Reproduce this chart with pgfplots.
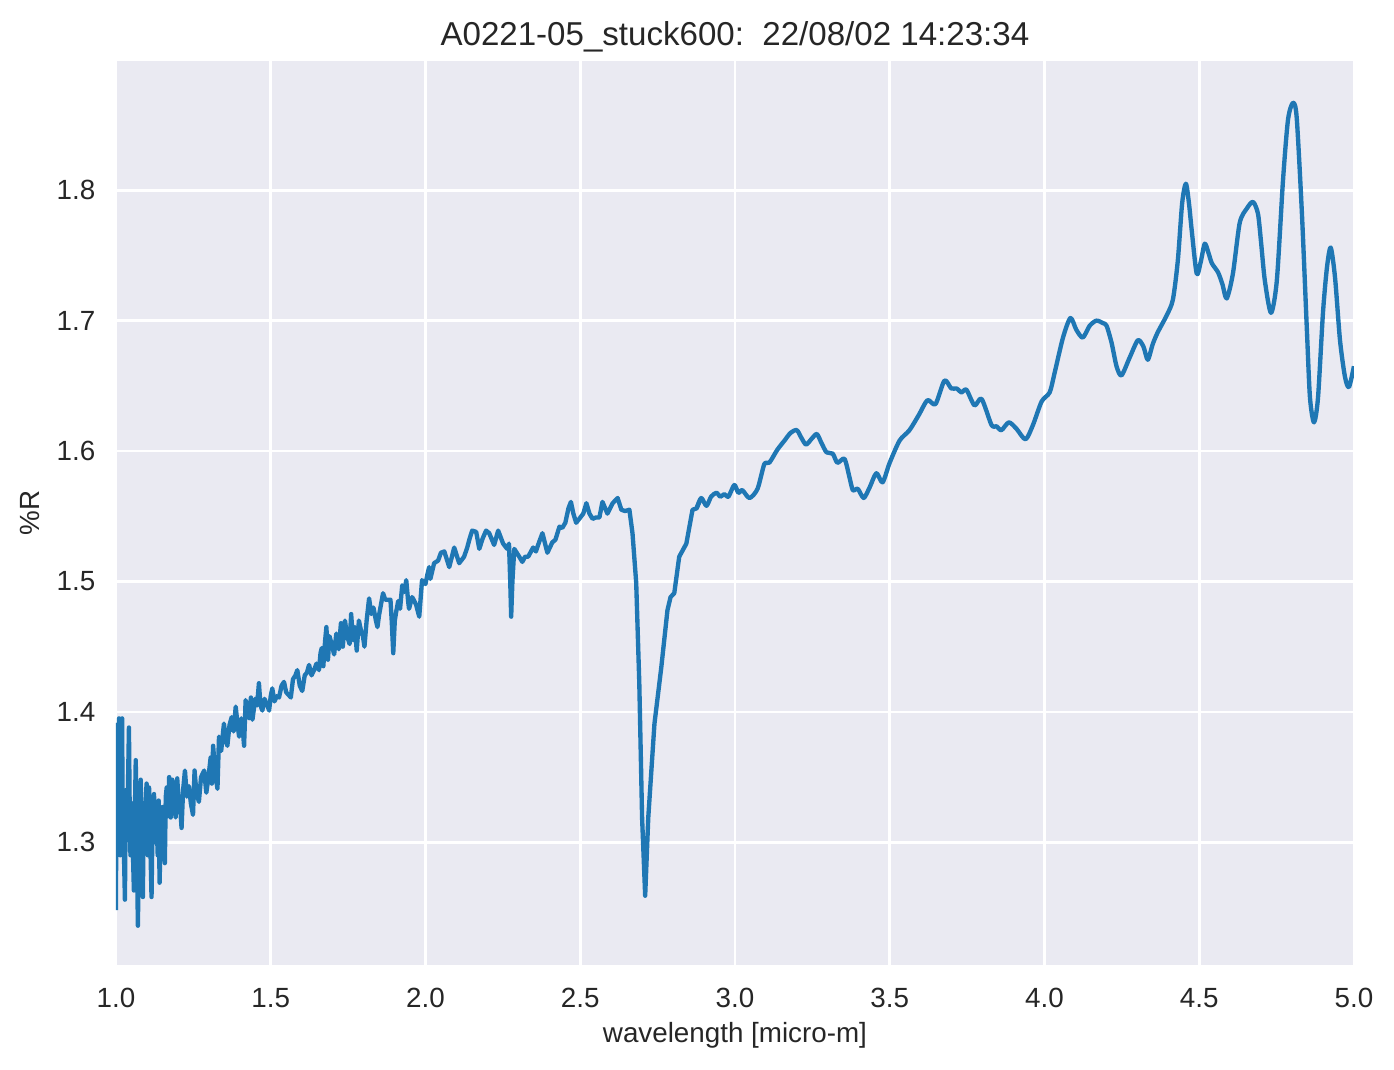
\documentclass[border=0pt]{standalone}
\usepackage{fontspec}
\setmainfont{Liberation Sans}
\usepackage{pgfplots}
\pgfplotsset{compat=1.18}
\definecolor{bgc}{HTML}{EAEAF2}
\definecolor{linec}{HTML}{1F77B4}
\definecolor{txt}{HTML}{262626}
\begin{document}
\begin{tikzpicture}
\begin{axis}[
  at={(0,0)}, anchor=south west,
  scale only axis, width=512.5pt, height=374.3pt,
  xmin=1, xmax=5, ymin=1.2057, ymax=1.899,
  axis background/.style={fill=bgc},
  axis line style={draw=none},
  major tick length=0pt,
  grid=major, grid style={white, line width=1.1pt},
  xtick={1,1.5,...,5}, ytick={1.3,1.4,1.5,1.6,1.7,1.8},
  /pgf/number format/assume math mode=true,
  xticklabel style={/pgf/number format/fixed, /pgf/number format/fixed zerofill, /pgf/number format/precision=1, font=\fontsize{11.5}{13}\selectfont, text=txt, yshift=-6pt},
  yticklabel style={/pgf/number format/fixed, /pgf/number format/fixed zerofill, /pgf/number format/precision=1, font=\fontsize{11.5}{13}\selectfont, text=txt, xshift=-5pt},
  xlabel={wavelength [micro-m]}, ylabel={\%R},
  xlabel style={font=\fontsize{11.5}{14}\selectfont, text=txt, yshift=1pt},
  ylabel style={font=\fontsize{11.5}{14}\selectfont, text=txt},
  title={A0221-05\_stuck600:\ \ 22/08/02 14:23:34},
  title style={font=\fontsize{13.7}{16}\selectfont, text=txt, yshift=-6pt},
  clip=true,
]
\addplot[linec, line width=1.8pt, line join=round] coordinates {
(1.000,1.248)(1.002,1.390)(1.004,1.300)(1.006,1.360)(1.008,1.310)(1.010,1.395)
(1.012,1.330)(1.014,1.290)(1.016,1.394)(1.018,1.320)(1.020,1.395)(1.022,1.300)
(1.024,1.330)(1.026,1.290)(1.029,1.256)(1.032,1.340)(1.035,1.310)(1.038,1.330)
(1.042,1.388)(1.045,1.310)(1.047,1.290)(1.050,1.330)(1.054,1.300)(1.058,1.263)
(1.061,1.320)(1.064,1.363)(1.067,1.300)(1.071,1.236)(1.074,1.300)(1.077,1.320)
(1.080,1.348)(1.083,1.300)(1.087,1.258)(1.090,1.330)(1.094,1.320)(1.099,1.345)
(1.103,1.290)(1.107,1.342)(1.111,1.300)(1.115,1.258)(1.119,1.330)(1.123,1.337)
(1.127,1.300)(1.131,1.320)(1.135,1.290)(1.138,1.332)(1.141,1.269)(1.145,1.310)
(1.150,1.327)(1.154,1.300)(1.158,1.284)(1.161,1.335)(1.164,1.342)(1.168,1.320)
(1.172,1.350)(1.177,1.319)(1.182,1.348)(1.187,1.330)(1.193,1.319)(1.198,1.349)
(1.203,1.330)(1.208,1.325)(1.212,1.311)(1.217,1.340)(1.223,1.355)(1.229,1.335)
(1.236,1.343)(1.242,1.330)(1.249,1.321)(1.254,1.355)(1.260,1.338)(1.268,1.331)
(1.275,1.350)(1.285,1.355)(1.292,1.338)(1.299,1.350)(1.306,1.365)(1.310,1.345)
(1.314,1.374)(1.320,1.355)(1.328,1.341)(1.333,1.381)(1.340,1.370)(1.349,1.391)
(1.355,1.378)(1.360,1.374)(1.367,1.390)(1.374,1.396)(1.380,1.385)(1.387,1.404)
(1.393,1.390)(1.398,1.381)(1.405,1.395)(1.410,1.386)(1.414,1.374)(1.419,1.409)
(1.425,1.400)(1.430,1.395)(1.436,1.411)(1.441,1.394)(1.450,1.410)(1.456,1.405)
(1.462,1.422)(1.467,1.405)(1.473,1.401)(1.480,1.410)(1.489,1.405)(1.495,1.401)
(1.500,1.412)(1.505,1.418)(1.512,1.408)(1.520,1.412)(1.527,1.411)(1.535,1.420)
(1.543,1.423)(1.550,1.415)(1.558,1.413)(1.565,1.411)(1.572,1.425)(1.580,1.428)
(1.586,1.432)(1.594,1.420)(1.602,1.416)(1.610,1.428)(1.617,1.430)(1.624,1.436)
(1.632,1.428)(1.640,1.432)(1.648,1.437)(1.656,1.432)(1.661,1.445)(1.665,1.449)
(1.670,1.435)(1.676,1.455)(1.680,1.465)(1.685,1.440)(1.690,1.458)(1.697,1.452)
(1.705,1.444)(1.712,1.460)(1.720,1.448)(1.727,1.468)(1.733,1.450)(1.740,1.470)
(1.747,1.458)(1.755,1.452)(1.760,1.475)(1.766,1.455)(1.772,1.465)(1.778,1.447)
(1.785,1.470)(1.792,1.462)(1.798,1.458)(1.803,1.450)(1.810,1.470)(1.818,1.487)
(1.825,1.475)(1.832,1.480)(1.840,1.470)(1.845,1.465)(1.850,1.474)(1.863,1.491)
(1.870,1.486)(1.876,1.486)(1.887,1.486)(1.891,1.470)(1.896,1.445)(1.901,1.470)
(1.905,1.476)(1.912,1.485)(1.918,1.479)(1.925,1.497)(1.932,1.492)(1.938,1.501)
(1.944,1.485)(1.947,1.479)(1.957,1.488)(1.962,1.486)(1.970,1.482)(1.980,1.473)
(1.989,1.501)(2.000,1.498)(2.006,1.505)(2.012,1.511)(2.016,1.502)(2.028,1.514)
(2.041,1.516)(2.050,1.522)(2.061,1.523)(2.077,1.511)(2.093,1.526)(2.109,1.514)
(2.125,1.519)(2.135,1.526)(2.143,1.533)(2.151,1.539)(2.164,1.538)(2.174,1.525)
(2.185,1.533)(2.196,1.539)(2.206,1.537)(2.222,1.528)(2.235,1.539)(2.251,1.529)
(2.264,1.525)(2.270,1.529)(2.274,1.500)(2.277,1.473)(2.281,1.500)(2.287,1.525)
(2.303,1.519)(2.313,1.515)(2.322,1.519)(2.332,1.519)(2.348,1.526)(2.357,1.523)
(2.367,1.530)(2.378,1.537)(2.394,1.522)(2.410,1.530)(2.420,1.532)(2.433,1.542)
(2.442,1.541)(2.452,1.545)(2.462,1.556)(2.470,1.561)(2.478,1.552)(2.487,1.545)
(2.497,1.548)(2.510,1.552)(2.520,1.560)(2.530,1.552)(2.540,1.548)(2.550,1.549)
(2.562,1.549)(2.572,1.561)(2.588,1.552)(2.605,1.560)(2.621,1.564)(2.633,1.555)
(2.645,1.554)(2.659,1.555)(2.669,1.537)(2.681,1.499)(2.691,1.422)(2.700,1.319)
(2.710,1.259)(2.720,1.319)(2.740,1.391)(2.762,1.434)(2.782,1.478)(2.792,1.488)
(2.804,1.491)(2.820,1.519)(2.843,1.529)(2.863,1.555)(2.876,1.556)(2.891,1.564)
};
\addplot[linec, line width=1.8pt, line join=round, smooth, tension=0.45] coordinates {
(2.876,1.556)(2.891,1.564)
(2.908,1.558)(2.923,1.565)(2.940,1.568)(2.953,1.565)(2.966,1.567)(2.979,1.565)
(2.998,1.574)(3.011,1.568)(3.024,1.570)(3.047,1.564)(3.073,1.571)(3.095,1.590)
(3.111,1.591)(3.137,1.601)(3.160,1.608)(3.180,1.614)(3.200,1.616)(3.215,1.610)
(3.230,1.605)(3.250,1.610)(3.265,1.613)(3.280,1.606)(3.296,1.599)(3.316,1.598)
(3.331,1.591)(3.354,1.594)(3.370,1.580)(3.381,1.570)(3.397,1.571)(3.416,1.564)
(3.435,1.572)(3.457,1.583)(3.477,1.576)(3.500,1.591)(3.532,1.608)(3.564,1.616)
(3.595,1.628)(3.622,1.639)(3.648,1.636)(3.677,1.654)(3.699,1.648)(3.716,1.648)
(3.732,1.645)(3.748,1.647)(3.774,1.635)(3.797,1.640)(3.829,1.620)(3.845,1.619)
(3.861,1.616)(3.885,1.622)(3.910,1.617)(3.939,1.609)(3.963,1.620)(3.991,1.638)
(4.017,1.645)(4.033,1.660)(4.060,1.687)(4.084,1.702)(4.103,1.693)(4.124,1.687)
(4.146,1.696)(4.168,1.700)(4.190,1.698)(4.201,1.696)(4.217,1.683)(4.233,1.665)
(4.249,1.658)(4.276,1.672)(4.302,1.685)(4.320,1.680)(4.334,1.670)(4.350,1.682)
(4.366,1.691)(4.395,1.704)(4.415,1.716)(4.431,1.746)(4.445,1.790)(4.457,1.805)
(4.467,1.790)(4.476,1.769)(4.492,1.736)(4.505,1.745)(4.518,1.759)(4.530,1.752)
(4.541,1.744)(4.561,1.737)(4.575,1.728)(4.589,1.717)(4.609,1.736)(4.631,1.775)
(4.654,1.786)(4.674,1.791)(4.690,1.782)(4.700,1.760)(4.712,1.731)(4.732,1.706)
(4.751,1.731)(4.771,1.808)(4.787,1.854)(4.803,1.867)(4.815,1.856)(4.832,1.782)
(4.848,1.693)(4.858,1.641)(4.871,1.622)(4.884,1.641)(4.900,1.706)(4.913,1.741)
(4.925,1.756)(4.939,1.733)(4.955,1.685)(4.971,1.657)(4.984,1.649)(5.000,1.665)
};
\end{axis}
\path[use as bounding box] (-48pt,-43.1pt) rectangle (529.1pt,399.6pt);
\end{tikzpicture}
\end{document}
